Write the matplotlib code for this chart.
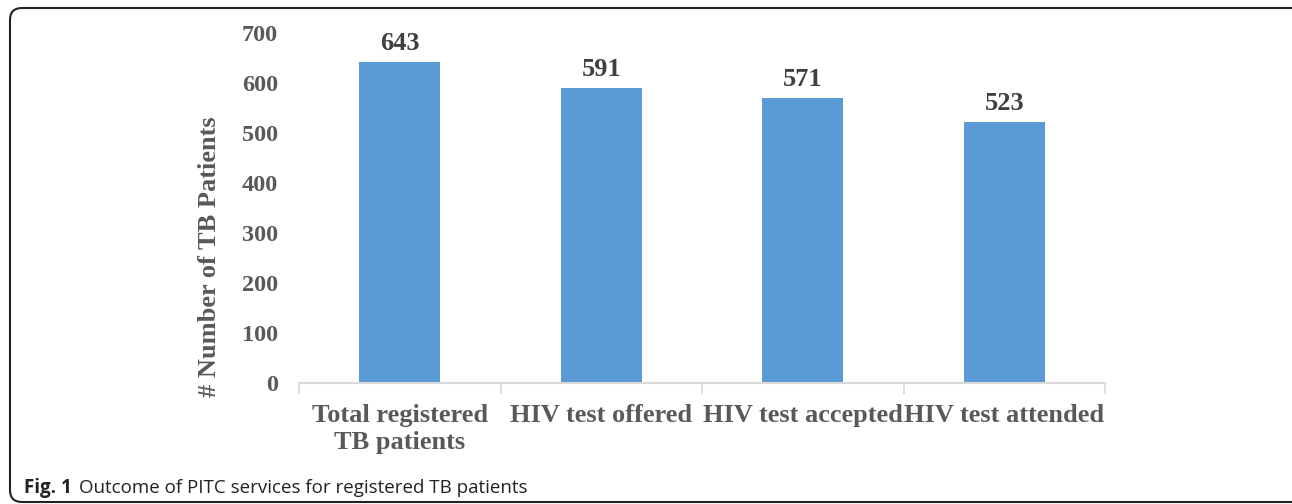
import matplotlib.pyplot as plt
from matplotlib.patches import FancyBboxPatch
from matplotlib.transforms import IdentityTransform
import numpy as np

categories = ["Total registered\nTB patients", "HIV test offered",
              "HIV test accepted", "HIV test attended"]
values = [643, 591, 571, 523]
yticks = [0, 100, 200, 300, 400, 500, 600, 700]

BAR_COLOR = "#5b9bd5"
TICK_COLOR = "#595959"
VALUE_COLOR = "#404040"
SERIF = ["Liberation Serif", "DejaVu Serif"]

fig = plt.figure(figsize=(12.92, 5.04), dpi=100)
ax = fig.add_axes([299 / 1292, 121 / 504, 806 / 1292, 350 / 504])

x = np.arange(len(categories))
bars = ax.bar(x, values, width=0.4, color=BAR_COLOR, zorder=2)

for b, v in zip(bars, values):
    ax.text(b.get_x() + b.get_width() / 2, v + 12, str(v), ha="center", va="bottom",
            fontsize=19, fontweight="bold", color=VALUE_COLOR, family=SERIF)

ax.set_xlim(-0.5, len(categories) - 0.5)
ax.set_ylim(0, 700)
ax.set_yticks(yticks)
ax.set_yticklabels([str(t) for t in yticks], fontsize=17.5, fontweight="bold",
                   color=TICK_COLOR, family=SERIF)
ax.set_xticks(x)
ax.set_xticklabels(categories, fontsize=19, fontweight="bold", color=TICK_COLOR,
                   family=SERIF, linespacing=1.25)
ax.tick_params(axis="x", which="major", length=0, pad=15)
ax.tick_params(axis="y", length=0, pad=15)
ax.set_xticks(np.arange(len(categories) + 1) - 0.5, minor=True)
ax.tick_params(axis="x", which="minor", length=8, color="#d9d9d9", width=1.2)

for s in ["top", "right", "left"]:
    ax.spines[s].set_visible(False)
ax.spines["bottom"].set_color("#d9d9d9")
ax.spines["bottom"].set_linewidth(1.5)

ax.set_ylabel("# Number of TB Patients", fontsize=19, fontweight="bold",
              color=TICK_COLOR, family=SERIF)
ax.yaxis.set_label_coords(-0.097, 0.36)

# rounded frame around the figure (pixel coordinates)
frame = FancyBboxPatch((10, 2), 1300, 494,
                       boxstyle="round,pad=0,rounding_size=12",
                       transform=IdentityTransform(), fc="none", ec="#222222",
                       lw=1.5)
fig.patches.append(frame)

fig.text(24 / 1292, 1 - 488 / 504, "Fig. 1", fontsize=13.5, fontweight="bold",
         family="Open Sans", ha="left", va="center", color="#222222")
fig.text(79 / 1292, 1 - 488 / 504, "Outcome of PITC services for registered TB patients",
         fontsize=13.5, family="Open Sans", ha="left", va="center", color="#222222")

fig.savefig("out.png", dpi=100)
